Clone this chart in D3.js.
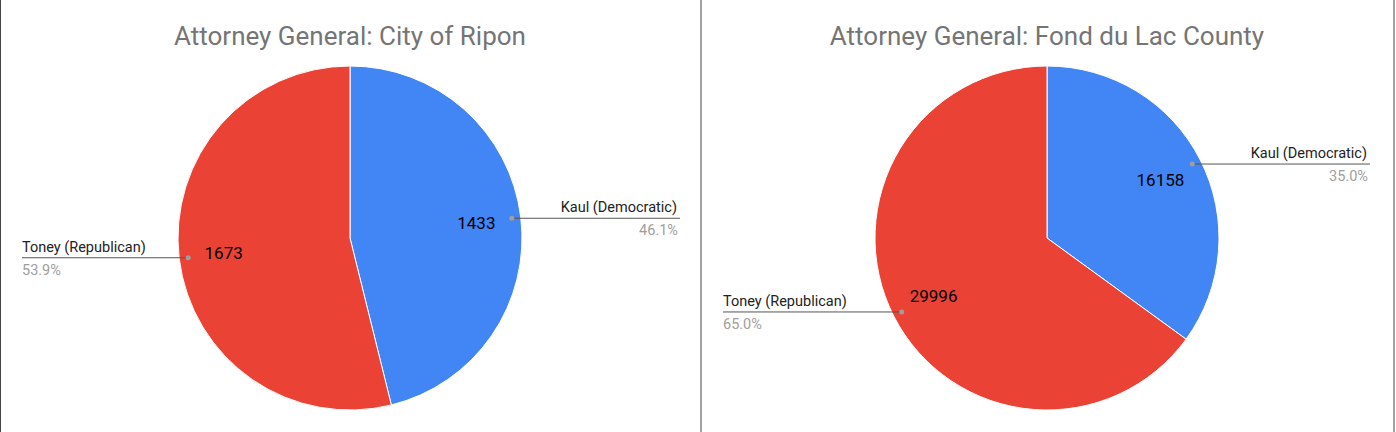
<!DOCTYPE html>
<html><head><meta charset="utf-8">
<script src="https://cdn.jsdelivr.net/npm/d3@7"></script>
<style>body{margin:0;background:#fff;font-family:Roboto,Arial,sans-serif}</style>
</head><body><div id="chart"></div>
<script>
var titles = ["Attorney General: City of Ripon", "Attorney General: Fond du Lac County"];
var candidates = ["Kaul (Democratic)", "Toney (Republican)"];
var votesRipon = [1433, 1673];
var votesCounty = [16158, 29996];
var colors = ["#4285f4", "#ea4335"];

var W = 1396, H = 432, r = 172,
    svg = d3.select("#chart").append("svg").attr("width", W).attr("height", H);

svg.append("rect").attr("x", 0.5).attr("y", -1).attr("width", 1393.5).attr("height", H + 2)
    .attr("fill", "none").attr("stroke", "#444");
svg.append("line").attr("x1", 701).attr("x2", 701).attr("y1", 0).attr("y2", H).attr("stroke", "#444");

function drawPie(cx, title, votes, lineEnds) {
    var g = svg.append("g").attr("transform", "translate(" + cx + ",238)"),
        total = d3.sum(votes),
        arcs = d3.pie().sort(null)(votes),
        arc = d3.arc().innerRadius(0).outerRadius(r),
        fmt = d3.format(".1%");
    svg.append("text").attr("x", cx).attr("y", 45).attr("text-anchor", "middle")
        .attr("font-size", 26).attr("fill", "#757575").text(title);
    g.selectAll("path").data(arcs).enter().append("path")
        .attr("d", arc).attr("fill", function (d, i) { return colors[i]; })
        .attr("stroke", "#fff").attr("stroke-width", 1);
    arcs.forEach(function (d, i) {
        var a = (d.startAngle + d.endAngle) / 2,
            vx = Math.sin(a) * r * 0.74, vy = -Math.cos(a) * r * 0.74,
            px = Math.sin(a) * 163, py = -Math.cos(a) * 163,
            right = Math.sin(a) > 0,
            ex = lineEnds[i] - cx;
        g.append("text").attr("x", vx).attr("y", vy + 6).attr("text-anchor", "middle")
            .attr("font-size", 17).attr("fill", "#000").text(votes[i]);
        g.append("line").attr("x1", px).attr("x2", ex).attr("y1", py).attr("y2", py)
            .attr("stroke", "#555").attr("stroke-width", 1);
        g.append("circle").attr("cx", px).attr("cy", py).attr("r", 2.5).attr("fill", "#9e9e9e");
        g.append("text").attr("x", right ? ex - 3 : ex).attr("y", py - 6)
            .attr("text-anchor", right ? "end" : "start").attr("font-size", 14.5)
            .attr("fill", "#222").text(candidates[i]);
        g.append("text").attr("x", right ? ex - 2 : ex).attr("y", py + 17)
            .attr("text-anchor", right ? "end" : "start").attr("font-size", 14.5)
            .attr("fill", "#9e9e9e").text(fmt(votes[i] / total));
    });
}

drawPie(350, titles[0], votesRipon, [680, 22]);
drawPie(1047, titles[1], votesCounty, [1370, 723]);
</script></body></html>
